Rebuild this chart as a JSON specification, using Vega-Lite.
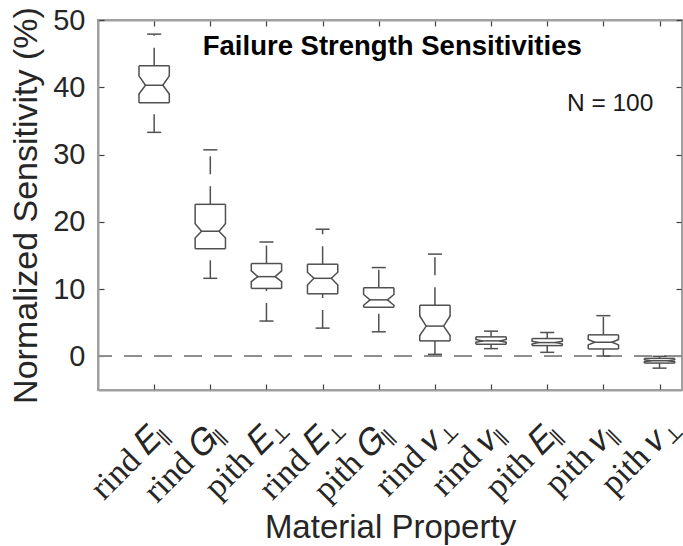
{
  "$schema": "https://vega.github.io/schema/vega-lite/v6.json",
  "width": 584,
  "height": 370,
  "autosize": {"type": "none"},
  "padding": {"left": 98, "top": 20, "right": 1, "bottom": 156},
  "background": "white",
  "config": {
    "view": {"stroke": "#a0a0a0", "strokeWidth": 2},
    "font": "Liberation Sans",
    "axis": {
      "domainColor": "#a0a0a0",
      "domainWidth": 2,
      "tickColor": "#404040",
      "tickWidth": 1.2,
      "tickSize": -6,
      "grid": false,
      "labelColor": "#262626",
      "titleColor": "#262626",
      "titleFontWeight": "normal",
      "titleFont": "Liberation Sans"
    }
  },
  "data": {
    "values": [
      {"main": "rind 𝐸", "sub": "∥", "pos": 1, "lw": 33.3, "q1": 37.7, "nlo": 39.0, "med": 40.3, "nhi": 41.7, "q3": 43.2, "uw": 47.9},
      {"main": "rind 𝐺", "sub": "∥", "pos": 2, "lw": 11.6, "q1": 16.0, "nlo": 17.6, "med": 18.6, "nhi": 19.7, "q3": 22.6, "uw": 30.7},
      {"main": "pith 𝐸", "sub": "⊥", "pos": 3, "lw": 5.25, "q1": 10.1, "nlo": 11.1, "med": 11.85, "nhi": 12.7, "q3": 13.8, "uw": 17.0},
      {"main": "rind 𝐸", "sub": "⊥", "pos": 4, "lw": 4.2, "q1": 9.3, "nlo": 10.6, "med": 11.6, "nhi": 12.5, "q3": 13.7, "uw": 18.9},
      {"main": "pith 𝐺", "sub": "∥", "pos": 5, "lw": 3.65, "q1": 7.3, "nlo": 7.6, "med": 8.4, "nhi": 9.2, "q3": 10.2, "uw": 13.2},
      {"main": "rind 𝜈", "sub": "⊥", "pos": 6, "lw": 0.3, "q1": 2.3, "nlo": 3.1, "med": 4.5, "nhi": 6.0, "q3": 7.6, "uw": 15.2},
      {"main": "rind 𝜈", "sub": "∥", "pos": 7, "lw": 1.15, "q1": 1.8, "nlo": 2.1, "med": 2.3, "nhi": 2.5, "q3": 2.9, "uw": 3.75},
      {"main": "pith 𝐸", "sub": "∥", "pos": 8, "lw": 0.6, "q1": 1.6, "nlo": 1.85, "med": 2.05, "nhi": 2.25, "q3": 2.65, "uw": 3.55},
      {"main": "pith 𝜈", "sub": "∥", "pos": 9, "lw": 0.05, "q1": 1.1, "nlo": 1.7, "med": 2.1, "nhi": 2.5, "q3": 3.2, "uw": 6.05},
      {"main": "pith 𝜈", "sub": "⊥", "pos": 10, "lw": -1.75, "q1": -1.0, "nlo": -0.8, "med": -0.65, "nhi": -0.5, "q3": -0.3, "uw": 0.0}
    ]
  },
  "transform": [
    {"calculate": "datum.pos - 0.27", "as": "xl"},
    {"calculate": "datum.pos + 0.27", "as": "xr"},
    {"calculate": "datum.pos - 0.155", "as": "xil"},
    {"calculate": "datum.pos + 0.155", "as": "xir"},
    {"calculate": "datum.pos - 0.125", "as": "cl"},
    {"calculate": "datum.pos + 0.125", "as": "cr"}
  ],
  "resolve": {"axis": {"x": "independent", "y": "independent"}},
  "layer": [
    {
      "mark": {"type": "rule", "color": "#8c8c8c", "strokeWidth": 1.2, "strokeDash": [18, 12]},
      "encoding": {"y": {"datum": 0, "type": "quantitative", "scale": {"domain": [-5, 50], "nice": false, "zero": false}, "axis": null}}
    },
    {
      "mark": {"type": "rule", "color": "#505050", "strokeWidth": 1.5},
      "encoding": {
        "x": {"field": "xl", "type": "quantitative", "scale": {"domain": [0, 10.4], "nice": false, "zero": false},
          "axis": {"orient": "bottom", "values": [1,2,3,4,5,6,7,8,9,10], "labels": false, "title": "Material Property", "titleFontSize": 33, "titleBaseline": "alphabetic", "titleX": 292, "titleY": 147, "titleAlign": "center"}},
        "x2": {"field": "xr"},
        "y": {"field": "q3", "type": "quantitative", "scale": {"domain": [-5, 50], "nice": false, "zero": false},
          "axis": {"orient": "left", "values": [0,10,20,30,40,50], "title": "Normalized Sensitivity (%)", "titleFontSize": 34, "titleBaseline": "alphabetic", "titleX": -62, "titleY": 185, "titleAngle": -90, "titleAlign": "center", "labelFontSize": 29, "labelPadding": 19}}
      }
    },
    {
      "mark": {"type": "rule", "color": "#505050", "strokeWidth": 1.5},
      "encoding": {
        "x": {"field": "xl", "type": "quantitative", "axis": {"orient": "top", "values": [1,2,3,4,5,6,7,8,9,10], "labels": false, "title": null, "domain": true}},
        "x2": {"field": "xr"},
        "y": {"field": "q1", "type": "quantitative", "axis": {"orient": "right", "values": [0,10,20,30,40,50], "labels": false, "title": null, "domain": true}}
      }
    },
    {
      "mark": {"type": "rule", "color": "#505050", "strokeWidth": 1.5},
      "encoding": {"x": {"field": "xl", "type": "quantitative", "axis": null}, "y": {"field": "q3", "type": "quantitative", "axis": null}, "y2": {"field": "nhi"}}
    },
    {
      "mark": {"type": "rule", "color": "#505050", "strokeWidth": 1.5},
      "encoding": {"x": {"field": "xr", "type": "quantitative", "axis": null}, "y": {"field": "q3", "type": "quantitative", "axis": null}, "y2": {"field": "nhi"}}
    },
    {
      "mark": {"type": "rule", "color": "#505050", "strokeWidth": 1.5},
      "encoding": {"x": {"field": "xl", "type": "quantitative", "axis": null}, "y": {"field": "nlo", "type": "quantitative", "axis": null}, "y2": {"field": "q1"}}
    },
    {
      "mark": {"type": "rule", "color": "#505050", "strokeWidth": 1.5},
      "encoding": {"x": {"field": "xr", "type": "quantitative", "axis": null}, "y": {"field": "nlo", "type": "quantitative", "axis": null}, "y2": {"field": "q1"}}
    },
    {
      "mark": {"type": "rule", "color": "#505050", "strokeWidth": 1.5, "strokeCap": "round"},
      "encoding": {"x": {"field": "xl", "type": "quantitative", "axis": null}, "x2": {"field": "xil"}, "y": {"field": "nhi", "type": "quantitative", "axis": null}, "y2": {"field": "med"}}
    },
    {
      "mark": {"type": "rule", "color": "#505050", "strokeWidth": 1.5, "strokeCap": "round"},
      "encoding": {"x": {"field": "xr", "type": "quantitative", "axis": null}, "x2": {"field": "xir"}, "y": {"field": "nhi", "type": "quantitative", "axis": null}, "y2": {"field": "med"}}
    },
    {
      "mark": {"type": "rule", "color": "#505050", "strokeWidth": 1.5, "strokeCap": "round"},
      "encoding": {"x": {"field": "xl", "type": "quantitative", "axis": null}, "x2": {"field": "xil"}, "y": {"field": "nlo", "type": "quantitative", "axis": null}, "y2": {"field": "med"}}
    },
    {
      "mark": {"type": "rule", "color": "#505050", "strokeWidth": 1.5, "strokeCap": "round"},
      "encoding": {"x": {"field": "xr", "type": "quantitative", "axis": null}, "x2": {"field": "xir"}, "y": {"field": "nlo", "type": "quantitative", "axis": null}, "y2": {"field": "med"}}
    },
    {
      "mark": {"type": "rule", "color": "#505050", "strokeWidth": 1.5},
      "encoding": {"x": {"field": "xil", "type": "quantitative", "axis": null}, "x2": {"field": "xir"}, "y": {"field": "med", "type": "quantitative", "axis": null}}
    },
    {
      "mark": {"type": "rule", "color": "#505050", "strokeWidth": 1.5, "strokeDash": [18, 12]},
      "encoding": {"x": {"field": "pos", "type": "quantitative", "axis": null}, "y": {"field": "q3", "type": "quantitative", "axis": null}, "y2": {"field": "uw"}}
    },
    {
      "mark": {"type": "rule", "color": "#505050", "strokeWidth": 1.5, "strokeDash": [18, 12]},
      "encoding": {"x": {"field": "pos", "type": "quantitative", "axis": null}, "y": {"field": "lw", "type": "quantitative", "axis": null}, "y2": {"field": "q1"}}
    },
    {
      "mark": {"type": "rule", "color": "#505050", "strokeWidth": 1.5},
      "encoding": {"x": {"field": "cl", "type": "quantitative", "axis": null}, "x2": {"field": "cr"}, "y": {"field": "uw", "type": "quantitative", "axis": null}}
    },
    {
      "mark": {"type": "rule", "color": "#505050", "strokeWidth": 1.5},
      "encoding": {"x": {"field": "cl", "type": "quantitative", "axis": null}, "x2": {"field": "cr"}, "y": {"field": "lw", "type": "quantitative", "axis": null}}
    },
    {
      "mark": {"type": "text", "font": "Liberation Serif", "fontSize": 34, "color": "#262626", "angle": -45, "align": "right", "baseline": "alphabetic", "dx": -29, "dy": 43},
      "encoding": {"x": {"field": "pos", "type": "quantitative", "axis": null}, "y": {"datum": -5, "type": "quantitative", "axis": null}, "text": {"field": "main"}}
    },
    {
      "mark": {"type": "text", "font": "DejaVu Serif", "fontSize": 20, "color": "#262626", "angle": -45, "align": "left", "baseline": "alphabetic", "dx": -31, "dy": 48},
      "encoding": {"x": {"field": "pos", "type": "quantitative", "axis": null}, "y": {"datum": -5, "type": "quantitative", "axis": null}, "text": {"field": "sub"}}
    },
    {
      "data": {"values": [{"label": "Failure Strength Sensitivities", "x": 5.24, "y": 44.8}]},
      "mark": {"type": "text", "font": "Liberation Sans", "fontSize": 27.5, "fontWeight": "bold", "color": "#000000", "align": "center", "baseline": "alphabetic"},
      "encoding": {"x": {"field": "x", "type": "quantitative", "axis": null}, "y": {"field": "y", "type": "quantitative", "axis": null}, "text": {"field": "label"}}
    },
    {
      "data": {"values": [{"label": "N = 100", "x": 8.35, "y": 37.5}]},
      "mark": {"type": "text", "font": "Liberation Sans", "fontSize": 24.5, "color": "#1a1a1a", "align": "left", "baseline": "middle"},
      "encoding": {"x": {"field": "x", "type": "quantitative", "axis": null}, "y": {"field": "y", "type": "quantitative", "axis": null}, "text": {"field": "label"}}
    }
  ]
}
